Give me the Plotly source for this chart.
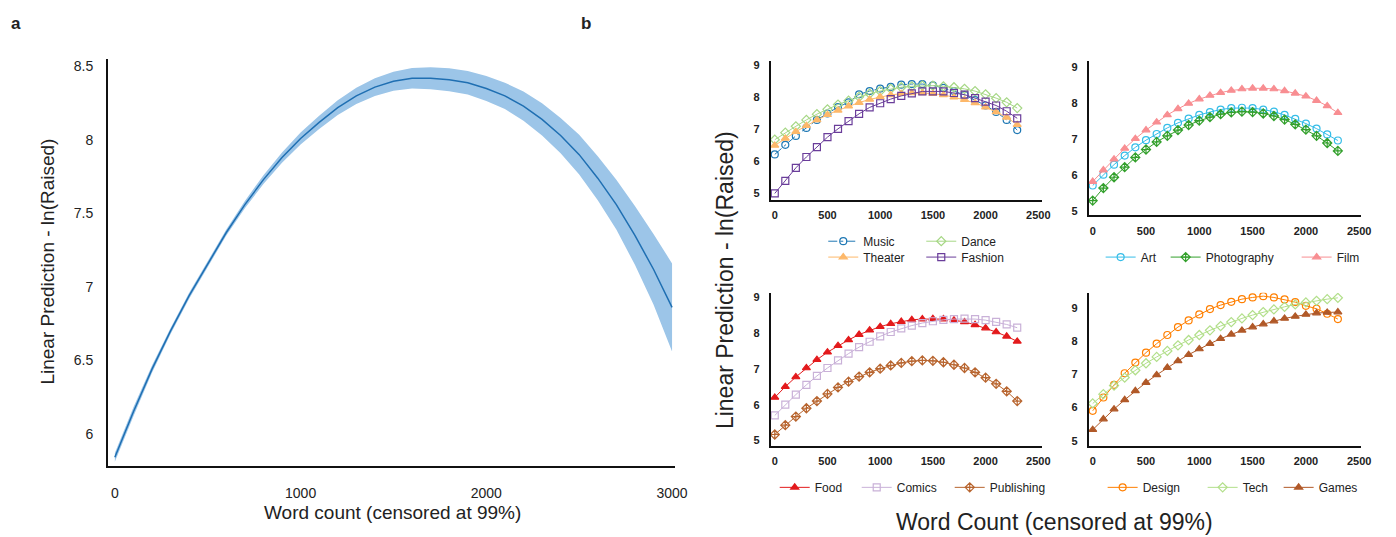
import plotly.graph_objects as go

W, H = 1396, 537

# ---------------- Panel a data ----------------
a_x = list(range(0, 3001, 100))
a_mean = [5.84, 6.15, 6.44, 6.70, 6.94, 7.16, 7.37, 7.56, 7.73, 7.88, 8.01, 8.12, 8.22, 8.30,
          8.36, 8.40, 8.42, 8.42, 8.41, 8.39, 8.35, 8.30, 8.23, 8.14, 8.03, 7.90, 7.74, 7.56,
          7.35, 7.12, 6.86]
a_half = [0.03, 0.03, 0.025, 0.02, 0.02, 0.02, 0.02, 0.025, 0.03, 0.035, 0.04, 0.045, 0.05,
          0.055, 0.06, 0.065, 0.07, 0.075, 0.078, 0.08, 0.085, 0.09, 0.10, 0.11, 0.12, 0.135,
          0.15, 0.17, 0.20, 0.24, 0.30]
a_upper = [m + h for m, h in zip(a_mean, a_half)]
a_lower = [m - h for m, h in zip(a_mean, a_half)]

# ---------------- Panel b data ----------------
b_x = list(range(0, 2301, 100))

music = [6.22, 6.52, 6.80, 7.05, 7.30, 7.50, 7.70, 7.85, 8.10, 8.20, 8.28, 8.33, 8.40, 8.42,
         8.42, 8.38, 8.30, 8.20, 8.08, 7.92, 7.75, 7.55, 7.30, 6.98]
dance = [6.68, 6.90, 7.10, 7.30, 7.48, 7.63, 7.78, 7.90, 8.02, 8.12, 8.20, 8.27, 8.32, 8.35,
         8.37, 8.37, 8.35, 8.32, 8.27, 8.20, 8.10, 7.98, 7.85, 7.67]
theater = [6.50, 6.72, 6.93, 7.12, 7.30, 7.46, 7.60, 7.73, 7.84, 7.94, 8.02, 8.08, 8.12, 8.14,
           8.14, 8.12, 8.08, 8.01, 7.93, 7.83, 7.70, 7.55, 7.38, 7.15]
fashion = [5.00, 5.39, 5.80, 6.14, 6.45, 6.76, 7.02, 7.26, 7.49, 7.69, 7.82, 7.95, 8.05, 8.13,
           8.19, 8.19, 8.19, 8.14, 8.09, 7.98, 7.87, 7.75, 7.57, 7.35]

art = [5.72, 6.02, 6.30, 6.55, 6.78, 6.98, 7.15, 7.32, 7.46, 7.58, 7.68, 7.76, 7.83, 7.87,
       7.88, 7.87, 7.83, 7.77, 7.68, 7.57, 7.44, 7.30, 7.14, 6.97]
photography = [5.30, 5.65, 5.95, 6.23, 6.50, 6.72, 6.93, 7.10, 7.26, 7.40, 7.52, 7.62, 7.70,
               7.75, 7.77, 7.76, 7.72, 7.65, 7.55, 7.42, 7.27, 7.10, 6.90, 6.68]
film = [5.83, 6.15, 6.45, 6.75, 7.02, 7.26, 7.48, 7.68, 7.85, 8.00, 8.12, 8.22, 8.30, 8.36,
        8.40, 8.42, 8.42, 8.40, 8.35, 8.28, 8.20, 8.08, 7.93, 7.74]

food = [6.20, 6.50, 6.77, 7.02, 7.25, 7.46, 7.64, 7.80, 7.95, 8.07, 8.17, 8.25, 8.31, 8.36,
        8.38, 8.39, 8.38, 8.35, 8.30, 8.22, 8.13, 8.02, 7.90, 7.76]
comics = [5.70, 6.00, 6.28, 6.55, 6.80, 7.02, 7.23, 7.42, 7.60, 7.75, 7.90, 8.02, 8.12, 8.20,
          8.27, 8.32, 8.36, 8.38, 8.39, 8.38, 8.35, 8.30, 8.23, 8.14]
publishing = [5.17, 5.43, 5.67, 5.90, 6.10, 6.30, 6.48, 6.64, 6.78, 6.90, 7.00, 7.09, 7.16,
              7.21, 7.23, 7.22, 7.18, 7.11, 7.02, 6.90, 6.75, 6.58, 6.37, 6.10]

design = [5.90, 6.30, 6.68, 7.03, 7.35, 7.65, 7.92, 8.18, 8.42, 8.62, 8.80, 8.96, 9.08, 9.18,
          9.26, 9.31, 9.35, 9.31, 9.25, 9.17, 9.06, 8.97, 8.82, 8.66]
tech = [6.12, 6.40, 6.66, 6.90, 7.12, 7.33, 7.52, 7.70, 7.87, 8.03, 8.18, 8.32, 8.45, 8.57,
        8.68, 8.78, 8.87, 8.95, 9.03, 9.10, 9.16, 9.21, 9.26, 9.30]
games = [5.33, 5.65, 5.95, 6.23, 6.50, 6.75, 6.98, 7.20, 7.40, 7.59, 7.76, 7.92, 8.07, 8.20,
         8.32, 8.42, 8.51, 8.60, 8.68, 8.74, 8.80, 8.84, 8.86, 8.87]

a_xticks = [0, 1000, 2000, 3000]
a_yticks = [6, 6.5, 7, 7.5, 8, 8.5]
a_yticktext = ["6", "6.5", "7", "7.5", "8", "8.5"]
b_xticks = [0, 500, 1000, 1500, 2000, 2500]
b_yticks = [5, 6, 7, 8, 9]

FONT = "Liberation Sans, Arial, sans-serif"
TXT = "#222222"


def px(x):
    return x / W


def py(y):
    return 1 - y / H


fig = go.Figure()

# Panel a: confidence band + line
fig.add_trace(go.Scatter(x=a_x, y=a_upper, mode="lines", line=dict(width=0, color="rgba(0,0,0,0)"),
                         showlegend=False, hoverinfo="skip", xaxis="x", yaxis="y"))
fig.add_trace(go.Scatter(x=a_x, y=a_lower, mode="lines", line=dict(width=0, color="rgba(0,0,0,0)"),
                         fill="tonexty", fillcolor="#9cc5e8", showlegend=False, hoverinfo="skip",
                         xaxis="x", yaxis="y"))
fig.add_trace(go.Scatter(x=a_x, y=a_mean, mode="lines", line=dict(width=1.5, color="#1f6fb2"),
                         showlegend=False, xaxis="x", yaxis="y"))

# series spec: name, values, color, symbol, axis index, legend, legendwidth, dash
series = [
    ("Music", music, "#1f78b4", "circle-open", 2, "legend", 53, "dashdot"),
    ("Dance", dance, "#a6d785", "diamond-open", 2, "legend", None, "solid"),
    ("Theater", theater, "#fdb86a", "triangle-up", 2, "legend2", 53, "solid"),
    ("Fashion", fashion, "#6a3d9a", "square-open", 2, "legend2", None, "solid"),
    ("Art", art, "#35bde8", "circle-open", 3, "legend3", 20, "solid"),
    ("Photography", photography, "#33a02c", "diamond-cross-open", 3, "legend3", 86, "solid"),
    ("Film", film, "#f88e92", "triangle-up", 3, "legend3", None, "solid"),
    ("Food", food, "#e31a1c", "triangle-up", 4, "legend4", 37, "solid"),
    ("Comics", comics, "#c9b1d8", "square-open", 4, "legend4", 48, "solid"),
    ("Publishing", publishing, "#b8652f", "diamond-cross-open", 4, "legend4", None, "solid"),
    ("Design", design, "#ff7f00", "circle-open", 5, "legend5", 55, "solid"),
    ("Tech", tech, "#b2df8a", "diamond-open", 5, "legend5", 31, "solid"),
    ("Games", games, "#b15928", "triangle-up", 5, "legend5", None, "solid"),
]

for rank, (name, vals, color, sym, ax, leg, lw, dash) in enumerate(series):
    kw = {}
    if lw is not None:
        kw["legendwidth"] = lw
    fig.add_trace(go.Scatter(
        x=b_x, y=vals, name=name, mode="lines+markers",
        line=dict(color=color, width=1, dash=dash),
        marker=dict(symbol=sym, size=7, color=color, line=dict(width=1.2, color=color)),
        xaxis="x%d" % ax, yaxis="y%d" % ax, legend=leg, legendrank=rank + 1, **kw))

axis_common = dict(showgrid=False, zeroline=False, showline=True, linecolor="#111111",
                   linewidth=2, ticks="", mirror=False)

a_font = dict(family=FONT, size=14, color=TXT)
b_font = dict(family=FONT, size=11, color=TXT, weight="bold")

layout = dict(
    width=W, height=H, margin=dict(l=0, r=0, t=0, b=0),
    plot_bgcolor="white", paper_bgcolor="white",
    font=dict(family=FONT, color=TXT),
    xaxis=dict(domain=[px(109), px(681)], range=[-37, 3014], tickvals=a_xticks,
               tickfont=a_font, anchor="y", ticklabelstandoff=14, **axis_common),
    yaxis=dict(domain=[py(467), py(57)], range=[5.784, 8.554], tickvals=a_yticks,
               ticktext=a_yticktext, tickfont=a_font, anchor="x", ticklabelstandoff=10,
               **axis_common),
)

# panel b subplot geometry (pixel boxes)
boxes = {
    2: (778, 1052, 59, 199, [-38, 2537], [4.81, 9.155]),
    3: (1099, 1374, 59, 215, [-37, 2519], [4.89, 9.19]),
    4: (778, 1052, 293, 447, [-38, 2537], [4.86, 9.11]),
    5: (1099, 1374, 293, 447, [-37, 2519], [4.85, 9.45]),
}
for i, (x0, x1, y0, y1, xr, yr) in boxes.items():
    layout["xaxis%d" % i] = dict(domain=[px(x0), px(x1)], range=xr, tickvals=b_xticks,
                                 tickfont=b_font, anchor="y%d" % i, ticklabelstandoff=4,
                                 **axis_common)
    layout["yaxis%d" % i] = dict(domain=[py(y1), py(y0)], range=yr, tickvals=b_yticks,
                                 tickfont=b_font, anchor="x%d" % i, ticklabelstandoff=7,
                                 **axis_common)

leg_font = dict(family=FONT, size=12, color=TXT)


def legend_at(xm, ym):
    return dict(orientation="h", x=px(xm - 9), y=py(ym), xanchor="left", yanchor="middle",
                font=leg_font, bgcolor="rgba(0,0,0,0)", itemwidth=30, tracegroupgap=0,
                traceorder="normal")


layout["legend"] = legend_at(840, 241)
layout["legend2"] = legend_at(840, 257)
layout["legend3"] = legend_at(1120, 257)
layout["legend4"] = legend_at(791, 489)
layout["legend5"] = legend_at(1122, 489)

ann = []


def add_text(text, x, y, size, angle=0, bold=False, anchor="center"):
    t = "<b>%s</b>" % text if bold else text
    ann.append(dict(text=t, x=px(x), y=py(y), xref="paper", yref="paper", showarrow=False,
                    xanchor=anchor, yanchor="middle", textangle=angle,
                    font=dict(family=FONT, size=size, color=TXT)))


add_text("a", 16, 22, 17, bold=True)
add_text("b", 592, 22, 17, bold=True)
add_text("Linear Prediction - ln(Raised)", 47, 262, 19, angle=-90)
add_text("Word count (censored at 99%)", 396, 514, 19)
add_text("Linear Prediction - ln(Raised)", 732, 280, 23, angle=-90)
add_text("Word Count (censored at 99%)", 1064, 524, 23)

layout["annotations"] = ann
fig.update_layout(**layout)

fig.write_html("out.html", config={"displayModeBar": False},
               post_script="document.body.style.margin='0px';"
                           "document.body.style.overflow='hidden';")
